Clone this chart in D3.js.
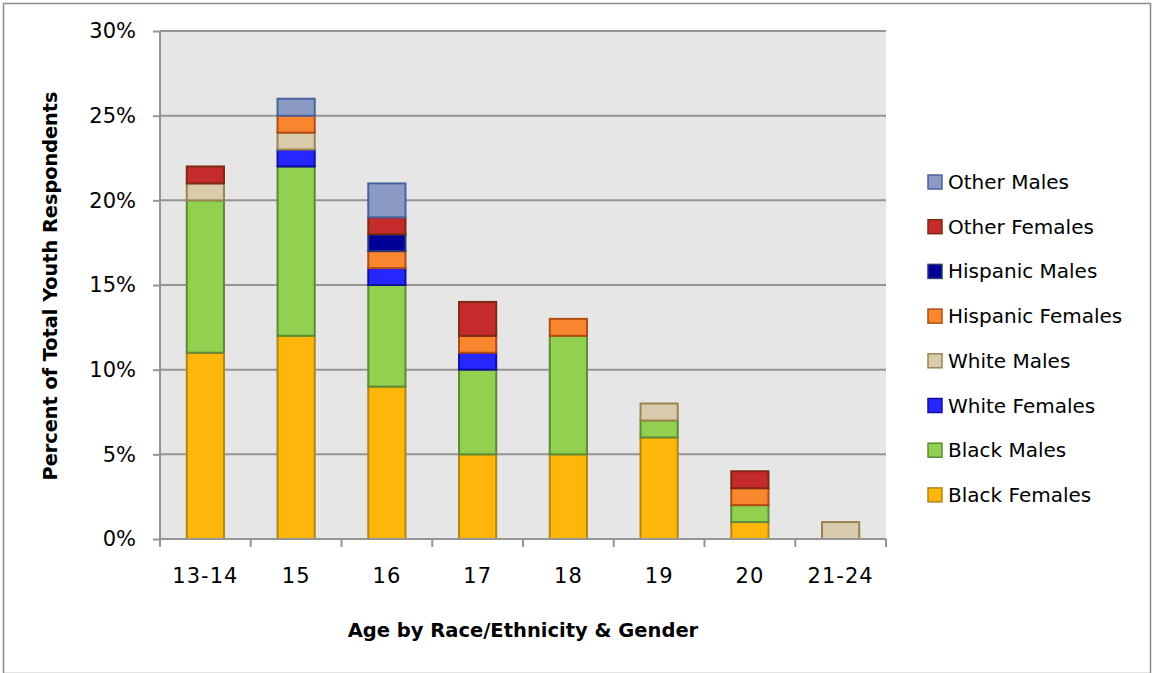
<!DOCTYPE html>
<html><head><meta charset="utf-8">
<script src="https://cdn.jsdelivr.net/npm/d3@7"></script>
<style>body{margin:0;background:#fff}svg{display:block}</style>
</head><body>
<script>
const categories = ["13-14","15","16","17","18","19","20","21-24"];
const seriesNames = ["Black Females","Black Males","White Females","White Males","Hispanic Females","Hispanic Males","Other Females","Other Males"];
const blackFemales   = [11,12,9,5,5,6,1,0];
const blackMales     = [9,10,6,5,7,1,1,0];
const whiteFemales   = [0,1,1,1,0,0,0,0];
const whiteMales     = [1,1,0,0,0,1,0,1];
const hispanicFemales= [0,1,1,1,1,0,1,0];
const hispanicMales  = [0,0,1,0,0,0,0,0];
const otherFemales   = [1,0,1,2,0,0,1,0];
const otherMales     = [0,1,2,0,0,0,0,0];
const yTicks = [0,5,10,15,20,25,30];
const fills   = ["#FFB60A","#92D050","#2626FF","#D9CBAB","#F88730","#000099","#C62B2B","#8B9BC4"];
const strokes = ["#B0861A","#5F8A35","#1010A0","#9A8452","#B34A14","#2A3A70","#7D2A12","#4A62A0"];

const values = [blackFemales,blackMales,whiteFemales,whiteMales,hispanicFemales,hispanicMales,otherFemales,otherMales];
const rows = categories.map((c,i)=>{const o={cat:c};seriesNames.forEach((s,j)=>o[s]=values[j][i]);return o;});
const stack = d3.stack().keys(seriesNames)(rows);

const W=1155,H=673;
const svg=d3.select("body").append("svg").attr("width",W).attr("height",H);
svg.append("rect").attr("x",3.5).attr("y",3.5).attr("width",1147).attr("height",670).attr("fill","#fff").attr("stroke","#8c8c8c").attr("stroke-width",1.5);

const L=160,R=886,T=31,B=539;
const x=d3.scaleBand().domain(categories).range([L,R]).paddingInner(0.59).paddingOuter(0.295);
const y=d3.scaleLinear().domain([0,30]).range([B,T]);
const font="'DejaVu Sans', 'Noto Sans', sans-serif";

svg.append("rect").attr("x",L).attr("y",T).attr("width",R-L).attr("height",B-T).attr("fill","#E6E6E6");
svg.append("g").selectAll("line").data(yTicks.filter(d=>d>0)).join("line")
  .attr("x1",L).attr("x2",R).attr("y1",d=>y(d)).attr("y2",d=>y(d)).attr("stroke","#959595").attr("stroke-width",2);

const layer=svg.append("g").selectAll("g").data(stack).join("g")
  .attr("fill",(d,i)=>fills[i]).attr("stroke",(d,i)=>strokes[i]);
layer.selectAll("rect").data(d=>d.filter(p=>p[1]-p[0]>0)).join("rect")
  .attr("x",d=>x(d.data.cat)).attr("width",x.bandwidth())
  .attr("y",d=>y(d[1])).attr("height",d=>y(d[0])-y(d[1]))
  .attr("stroke-width",2);

// y axis
const ya=svg.append("g").attr("transform",`translate(${L},0)`)
  .call(d3.axisLeft(y).tickValues(yTicks).tickFormat(d=>d+"%").tickSize(7).tickPadding(17));
ya.select(".domain").attr("stroke","#959595").attr("stroke-width",2).attr("d",`M0,${T}V${B}`);
ya.selectAll(".tick line").attr("stroke","#959595").attr("stroke-width",2);
ya.selectAll("text").attr("font-family",font).attr("font-size",21).attr("fill","#000");

// x axis
const xa=svg.append("g").attr("transform",`translate(0,${B})`)
  .call(d3.axisBottom(x).tickSize(0).tickPadding(29));
xa.select(".domain").attr("stroke","#959595").attr("stroke-width",2).attr("d",`M${L},0H${R}`);
xa.selectAll("text").attr("font-family",font).attr("font-size",21).attr("letter-spacing",1).attr("fill","#000");
const step=x.step();
xa.append("g").selectAll("line").data(d3.range(categories.length+1)).join("line")
  .attr("x1",i=>L+i*step).attr("x2",i=>L+i*step).attr("y1",0).attr("y2",8).attr("stroke","#959595").attr("stroke-width",2);

// titles
const tfont="'DejaVu Sans', sans-serif";
svg.append("text").attr("x",523).attr("y",637).attr("text-anchor","middle").attr("font-family",tfont)
  .attr("font-weight","bold").attr("font-size",19.5).text("Age by Race/Ethnicity & Gender");
svg.append("text").attr("transform","translate(57,286) rotate(-90)").attr("text-anchor","middle").attr("font-family",tfont)
  .attr("font-weight","bold").attr("font-size",19.3).text("Percent of Total Youth Respondents");

// legend
const legOrder=seriesNames.map((s,i)=>i).reverse();
const lg=svg.append("g").selectAll("g").data(legOrder).join("g")
  .attr("transform",(d,k)=>`translate(928,${182+k*44.7})`);
lg.append("rect").attr("x",0).attr("y",-7).attr("width",14).attr("height",14)
  .attr("fill",i=>fills[i]).attr("stroke",i=>strokes[i]).attr("stroke-width",1.5);
lg.append("text").attr("x",20).attr("y",7).attr("font-family",font).attr("font-size",20).attr("fill","#000").text(i=>seriesNames[i]);
</script>
</body></html>
